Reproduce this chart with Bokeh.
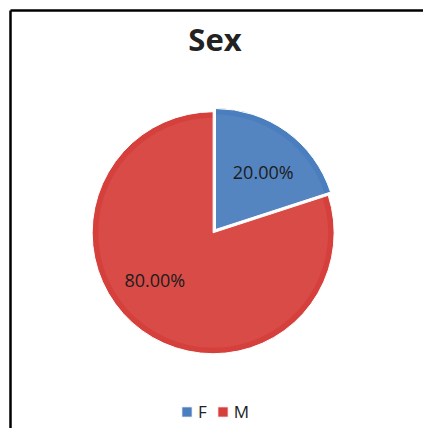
import numpy as np
from bokeh.plotting import figure
from bokeh.models import Range1d, ColumnDataSource, Legend, LegendItem
from bokeh.embed import file_html
from bokeh.resources import INLINE
from bokeh.core.properties import value

# ---- data ----
title_text = "Sex"
categories = ["F", "M"]
shares = [20.0, 80.0]
label_texts = ["20.00%", "80.00%"]
colors = ["#4A7EBE", "#D6403C"]

# ---- layout / style constants ----
W, H = 423, 428
CX, CY = 215, H - 229          # pie centre (data units == pixels)
R = 121                         # pie radius
EXPLODE = [0, 4]                # px offset of each slice along its bisector
LABEL_R = 0.62                  # label distance as fraction of R
LABEL_NUDGE_DEG = [-3.5, -15]   # best-fit style angular nudges

p = figure(width=W, height=H, x_range=Range1d(0, W), y_range=Range1d(0, H),
           output_backend="svg", toolbar_location=None, min_border=0,
           x_axis_location=None, y_axis_location=None)
p.grid.visible = False
p.outline_line_color = None
p.background_fill_color = "white"
p.border_fill_color = "white"

# chart border (top and left edges visible in the crop)
p.segment(x0=[10, 10], y0=[H - 10, H - 10], x1=[W, 10], y1=[H - 10, 0],
          line_color="black", line_width=2.5)

total = float(sum(shares))
cum = np.concatenate([[0.0], np.cumsum(shares)])
starts = [np.pi / 2 - 2 * np.pi * cum[i + 1] / total for i in range(len(shares))]
ends = [np.pi / 2 - 2 * np.pi * cum[i] / total for i in range(len(shares))]
mids = [(s + e) / 2 for s, e in zip(starts, ends)]
xs = [CX + EXPLODE[i] * np.cos(mids[i]) for i in range(len(shares))]
ys = [CY + EXPLODE[i] * np.sin(mids[i]) for i in range(len(shares))]

src = ColumnDataSource(dict(x=xs, y=ys, start=starts, end=ends,
                            color=colors, category=categories))
wedges = p.wedge(x="x", y="y", radius=R, radius_units="screen",
                 start_angle="start", end_angle="end",
                 fill_color="color", line_color="white", line_width=1,
                 source=src)

# subtle shading for a 2007-style look
p.wedge(x="x", y="y", radius=R - 6, radius_units="screen",
        start_angle="start", end_angle="end",
        fill_color="white", fill_alpha=0.06, line_color=None, source=src)

# percentage labels
la = [mids[i] + np.radians(LABEL_NUDGE_DEG[i]) for i in range(len(shares))]
lx = [xs[i] + LABEL_R * R * np.cos(la[i]) for i in range(len(shares))]
ly = [ys[i] + LABEL_R * R * np.sin(la[i]) for i in range(len(shares))]
p.text(x=lx, y=ly, text=label_texts, text_align="center", text_baseline="middle",
       text_font=value("Open Sans"), text_font_size="18px", text_color="#1c1c1c")

# title
p.text(x=[W / 2 + 3], y=[H - 38], text=[title_text], text_align="center",
       text_baseline="middle", text_font=value("Open Sans"), text_font_style="bold",
       text_font_size="31px", text_color="#222222")

legend = Legend(items=[LegendItem(label=categories[i], renderers=[wedges], index=i)
                       for i in range(len(categories))],
                orientation="horizontal", location=(180, 5),
                glyph_width=13, glyph_height=13, label_standoff=5, spacing=9,
                label_width=8, padding=0, margin=0, border_line_color=None,
                background_fill_alpha=0, label_height=16,
                label_text_font="Open Sans", label_text_font_size="17px",
                label_text_color="#222222")
p.add_layout(legend)

open("out.html", "w").write(file_html(p, INLINE))
